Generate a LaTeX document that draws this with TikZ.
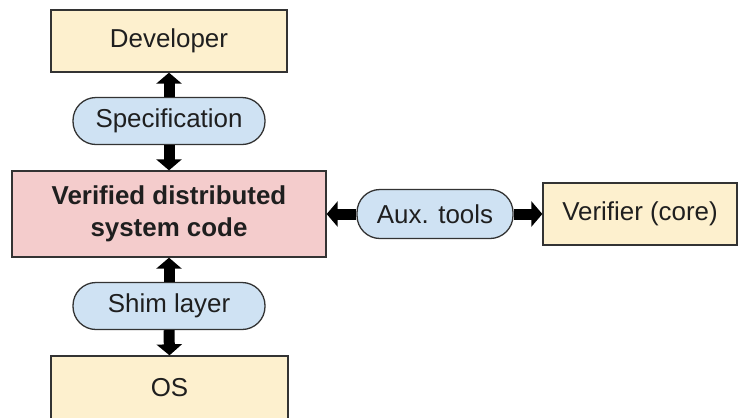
\documentclass[tikz,border=0pt]{standalone}
\usepackage{fontspec}
\setmainfont{Liberation Sans}
\usetikzlibrary{arrows.meta}
\definecolor{boxyellow}{HTML}{FDF0CE}
\definecolor{boxpink}{HTML}{F4CCCC}
\definecolor{pillblue}{HTML}{CFE2F3}
\definecolor{edge}{HTML}{333333}
\tikzset{
  txt/.style={font=\fontsize{26}{32}\selectfont, text=black!88, align=center},
  block/.style={txt, draw=edge, line width=1.3bp, inner sep=0pt},
  yellowbox/.style={block, fill=boxyellow},
  codebox/.style={block, fill=boxpink},
  pill/.style={block, fill=pillblue, rounded corners=23bp},
  thickarrow/.style={line width=11bp, -{Triangle[width=25bp,length=11bp]}, black}
}
\begin{document}
\begin{tikzpicture}[x=1bp,y=-1bp]
  \useasboundingbox (0,0) rectangle (738,417);
  % boxes
  \node[yellowbox, minimum width=236bp, minimum height=62bp] (dev) at (169,41) {Developer};
  \node[codebox, minimum width=314bp, minimum height=86bp] (code) at (169,214)
    {\bfseries Verified distributed\\ \bfseries system code};
  \node[yellowbox, minimum width=237bp, minimum height=64bp] (os) at (169.5,388) {OS};
  \node[yellowbox, minimum width=194bp, minimum height=62bp] (ver) at (640,214) {Verifier (core)};
  % interfaces
  \node[pill, minimum width=192bp, minimum height=47bp] (spec) at (169,121) {Specification};
  \node[pill, minimum width=192bp, minimum height=47bp] (shim) at (169,306) {Shim layer};
  \node[pill, minimum width=156bp, minimum height=49bp] (aux) at (435,214) {Aux. tools};
  % connectors
  \draw[thickarrow] (spec.north) -- (dev.south);
  \draw[thickarrow] (spec.south) -- (code.north);
  \draw[thickarrow] (shim.north) -- (code.south);
  \draw[thickarrow] (shim.south) -- (os.north);
  \draw[thickarrow] (aux.west) -- (code.east);
  \draw[thickarrow] (aux.east) -- (ver.west);
\end{tikzpicture}
\end{document}
